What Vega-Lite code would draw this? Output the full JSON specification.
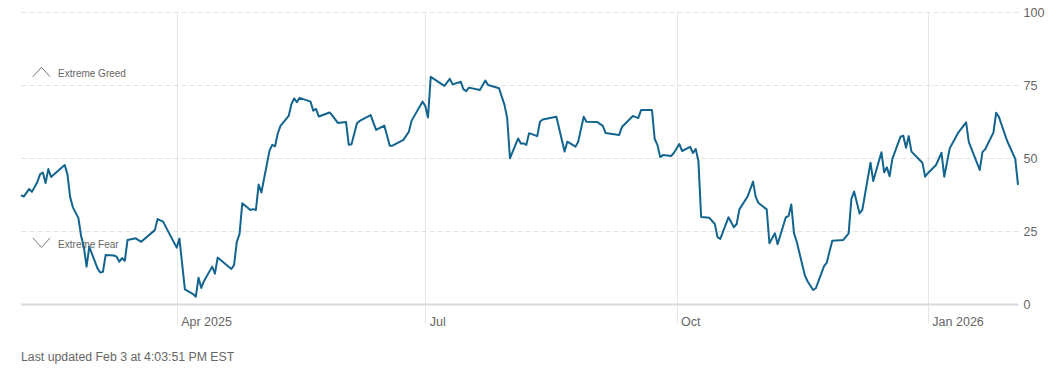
{
  "$schema": "https://vega.github.io/schema/vega-lite/v6.json",
  "width": 997,
  "height": 292,
  "autosize": {"type": "none"},
  "padding": {"left": 21, "top": 12, "right": 42, "bottom": 70},
  "background": "white",
  "config": {"view": {"stroke": null}, "font": "Liberation Sans"},
  "title": {
    "text": "Last updated Feb 3 at 4:03:51 PM EST",
    "orient": "bottom",
    "anchor": "start",
    "frame": "group",
    "fontSize": 12.3,
    "fontWeight": "normal",
    "color": "#666666",
    "font": "Liberation Sans",
    "offset": 23
  },
  "datasets": {
    "fg": [
      {"date": "2025-02-03", "value": 37.3},
      {"date": "2025-02-04", "value": 36.8},
      {"date": "2025-02-06", "value": 39.4},
      {"date": "2025-02-07", "value": 38.4},
      {"date": "2025-02-09", "value": 41.8},
      {"date": "2025-02-10", "value": 44.5},
      {"date": "2025-02-11", "value": 45.0},
      {"date": "2025-02-12", "value": 41.4},
      {"date": "2025-02-13", "value": 46.2},
      {"date": "2025-02-14", "value": 43.5},
      {"date": "2025-02-19", "value": 47.6},
      {"date": "2025-02-20", "value": 44.4},
      {"date": "2025-02-21", "value": 36.6},
      {"date": "2025-02-22", "value": 33.1},
      {"date": "2025-02-24", "value": 29.5},
      {"date": "2025-02-25", "value": 23.3},
      {"date": "2025-02-26", "value": 19.6},
      {"date": "2025-02-27", "value": 12.8},
      {"date": "2025-02-28", "value": 19.6},
      {"date": "2025-03-03", "value": 12.2},
      {"date": "2025-03-04", "value": 10.8},
      {"date": "2025-03-05", "value": 11.0},
      {"date": "2025-03-06", "value": 16.8},
      {"date": "2025-03-09", "value": 16.6},
      {"date": "2025-03-10", "value": 16.2},
      {"date": "2025-03-11", "value": 14.5},
      {"date": "2025-03-12", "value": 15.7},
      {"date": "2025-03-13", "value": 14.8},
      {"date": "2025-03-14", "value": 21.9},
      {"date": "2025-03-17", "value": 22.5},
      {"date": "2025-03-19", "value": 21.3},
      {"date": "2025-03-24", "value": 25.3},
      {"date": "2025-03-25", "value": 29.1},
      {"date": "2025-03-27", "value": 28.2},
      {"date": "2025-04-01", "value": 19.3},
      {"date": "2025-04-02", "value": 22.4},
      {"date": "2025-04-04", "value": 5.0},
      {"date": "2025-04-07", "value": 3.4},
      {"date": "2025-04-08", "value": 2.5},
      {"date": "2025-04-09", "value": 9.0},
      {"date": "2025-04-10", "value": 5.5},
      {"date": "2025-04-11", "value": 7.9},
      {"date": "2025-04-14", "value": 12.8},
      {"date": "2025-04-15", "value": 10.4},
      {"date": "2025-04-16", "value": 15.9},
      {"date": "2025-04-21", "value": 12.0},
      {"date": "2025-04-22", "value": 13.3},
      {"date": "2025-04-23", "value": 21.3},
      {"date": "2025-04-24", "value": 23.9},
      {"date": "2025-04-25", "value": 34.5},
      {"date": "2025-04-28", "value": 32.2},
      {"date": "2025-04-29", "value": 32.5},
      {"date": "2025-04-30", "value": 32.2},
      {"date": "2025-05-01", "value": 40.9},
      {"date": "2025-05-02", "value": 38.2},
      {"date": "2025-05-05", "value": 52.6},
      {"date": "2025-05-06", "value": 54.5},
      {"date": "2025-05-07", "value": 54.0},
      {"date": "2025-05-08", "value": 58.4},
      {"date": "2025-05-09", "value": 61.0},
      {"date": "2025-05-12", "value": 64.4},
      {"date": "2025-05-13", "value": 68.4},
      {"date": "2025-05-14", "value": 70.4},
      {"date": "2025-05-15", "value": 69.1},
      {"date": "2025-05-16", "value": 70.6},
      {"date": "2025-05-20", "value": 69.3},
      {"date": "2025-05-21", "value": 66.2},
      {"date": "2025-05-22", "value": 66.8},
      {"date": "2025-05-23", "value": 64.2},
      {"date": "2025-05-27", "value": 65.6},
      {"date": "2025-05-28", "value": 64.5},
      {"date": "2025-05-30", "value": 62.0},
      {"date": "2025-06-02", "value": 62.3},
      {"date": "2025-06-03", "value": 54.5},
      {"date": "2025-06-04", "value": 54.7},
      {"date": "2025-06-06", "value": 61.9},
      {"date": "2025-06-07", "value": 62.7},
      {"date": "2025-06-11", "value": 64.7},
      {"date": "2025-06-13", "value": 59.6},
      {"date": "2025-06-16", "value": 61.1},
      {"date": "2025-06-18", "value": 54.2},
      {"date": "2025-06-19", "value": 54.2},
      {"date": "2025-06-23", "value": 56.2},
      {"date": "2025-06-25", "value": 59.0},
      {"date": "2025-06-26", "value": 62.8},
      {"date": "2025-06-30", "value": 69.3},
      {"date": "2025-07-01", "value": 67.8},
      {"date": "2025-07-02", "value": 63.9},
      {"date": "2025-07-03", "value": 77.8},
      {"date": "2025-07-08", "value": 74.7},
      {"date": "2025-07-10", "value": 77.1},
      {"date": "2025-07-11", "value": 75.2},
      {"date": "2025-07-14", "value": 76.1},
      {"date": "2025-07-15", "value": 73.5},
      {"date": "2025-07-16", "value": 72.9},
      {"date": "2025-07-17", "value": 74.1},
      {"date": "2025-07-21", "value": 73.3},
      {"date": "2025-07-23", "value": 76.5},
      {"date": "2025-07-24", "value": 75.0},
      {"date": "2025-07-28", "value": 73.9},
      {"date": "2025-07-30", "value": 68.2},
      {"date": "2025-07-31", "value": 63.6},
      {"date": "2025-08-01", "value": 49.9},
      {"date": "2025-08-04", "value": 56.7},
      {"date": "2025-08-05", "value": 55.0},
      {"date": "2025-08-06", "value": 55.0},
      {"date": "2025-08-07", "value": 54.5},
      {"date": "2025-08-08", "value": 58.5},
      {"date": "2025-08-11", "value": 57.5},
      {"date": "2025-08-12", "value": 62.4},
      {"date": "2025-08-13", "value": 63.2},
      {"date": "2025-08-18", "value": 64.1},
      {"date": "2025-08-21", "value": 52.2},
      {"date": "2025-08-22", "value": 55.6},
      {"date": "2025-08-25", "value": 53.9},
      {"date": "2025-08-26", "value": 55.6},
      {"date": "2025-08-28", "value": 64.1},
      {"date": "2025-08-29", "value": 62.4},
      {"date": "2025-09-02", "value": 62.3},
      {"date": "2025-09-04", "value": 61.0},
      {"date": "2025-09-05", "value": 58.6},
      {"date": "2025-09-10", "value": 57.9},
      {"date": "2025-09-11", "value": 60.6},
      {"date": "2025-09-15", "value": 64.4},
      {"date": "2025-09-16", "value": 64.0},
      {"date": "2025-09-17", "value": 63.7},
      {"date": "2025-09-18", "value": 66.4},
      {"date": "2025-09-22", "value": 66.4},
      {"date": "2025-09-23", "value": 56.5},
      {"date": "2025-09-24", "value": 54.5},
      {"date": "2025-09-25", "value": 50.3},
      {"date": "2025-09-26", "value": 51.0},
      {"date": "2025-09-29", "value": 50.7},
      {"date": "2025-09-30", "value": 51.7},
      {"date": "2025-10-02", "value": 54.8},
      {"date": "2025-10-03", "value": 52.4},
      {"date": "2025-10-06", "value": 53.8},
      {"date": "2025-10-07", "value": 51.7},
      {"date": "2025-10-08", "value": 53.1},
      {"date": "2025-10-09", "value": 49.0},
      {"date": "2025-10-10", "value": 29.8},
      {"date": "2025-10-13", "value": 29.5},
      {"date": "2025-10-15", "value": 27.4},
      {"date": "2025-10-16", "value": 22.9},
      {"date": "2025-10-17", "value": 22.3},
      {"date": "2025-10-20", "value": 29.7},
      {"date": "2025-10-22", "value": 26.3},
      {"date": "2025-10-23", "value": 27.4},
      {"date": "2025-10-24", "value": 32.4},
      {"date": "2025-10-27", "value": 36.8},
      {"date": "2025-10-29", "value": 41.9},
      {"date": "2025-10-30", "value": 36.6},
      {"date": "2025-10-31", "value": 34.6},
      {"date": "2025-11-03", "value": 32.4},
      {"date": "2025-11-04", "value": 20.8},
      {"date": "2025-11-06", "value": 24.2},
      {"date": "2025-11-07", "value": 20.5},
      {"date": "2025-11-10", "value": 29.7},
      {"date": "2025-11-11", "value": 30.1},
      {"date": "2025-11-12", "value": 34.1},
      {"date": "2025-11-13", "value": 24.2},
      {"date": "2025-11-14", "value": 21.3},
      {"date": "2025-11-17", "value": 9.7},
      {"date": "2025-11-18", "value": 7.7},
      {"date": "2025-11-20", "value": 4.8},
      {"date": "2025-11-21", "value": 5.4},
      {"date": "2025-11-23", "value": 10.5},
      {"date": "2025-11-24", "value": 13.0},
      {"date": "2025-11-25", "value": 14.2},
      {"date": "2025-11-27", "value": 21.7},
      {"date": "2025-12-01", "value": 21.9},
      {"date": "2025-12-03", "value": 24.2},
      {"date": "2025-12-04", "value": 36.0},
      {"date": "2025-12-05", "value": 38.5},
      {"date": "2025-12-07", "value": 31.0},
      {"date": "2025-12-08", "value": 32.2},
      {"date": "2025-12-11", "value": 48.4},
      {"date": "2025-12-12", "value": 42.1},
      {"date": "2025-12-15", "value": 52.0},
      {"date": "2025-12-16", "value": 45.1},
      {"date": "2025-12-17", "value": 46.8},
      {"date": "2025-12-18", "value": 43.8},
      {"date": "2025-12-19", "value": 49.7},
      {"date": "2025-12-22", "value": 57.3},
      {"date": "2025-12-23", "value": 57.6},
      {"date": "2025-12-24", "value": 53.5},
      {"date": "2025-12-25", "value": 57.5},
      {"date": "2025-12-26", "value": 52.2},
      {"date": "2025-12-29", "value": 49.3},
      {"date": "2025-12-30", "value": 48.4},
      {"date": "2025-12-31", "value": 43.6},
      {"date": "2026-01-01", "value": 44.8},
      {"date": "2026-01-04", "value": 47.6},
      {"date": "2026-01-06", "value": 51.8},
      {"date": "2026-01-07", "value": 43.6},
      {"date": "2026-01-09", "value": 53.3},
      {"date": "2026-01-12", "value": 58.5},
      {"date": "2026-01-15", "value": 62.2},
      {"date": "2026-01-16", "value": 55.4},
      {"date": "2026-01-20", "value": 45.9},
      {"date": "2026-01-21", "value": 52.1},
      {"date": "2026-01-22", "value": 53.0},
      {"date": "2026-01-25", "value": 58.7},
      {"date": "2026-01-26", "value": 65.5},
      {"date": "2026-01-27", "value": 64.1},
      {"date": "2026-01-30", "value": 55.9},
      {"date": "2026-02-02", "value": 49.7},
      {"date": "2026-02-03", "value": 40.8}
    ],
    "notes": [
      {"date": "2025-02-16T14:00:00Z", "value": 77.6, "label": "Extreme Greed"},
      {"date": "2025-02-16T14:00:00Z", "value": 19.1, "label": "Extreme Fear"}
    ],
    "chevrons": [
      {"date": "2025-02-10T12:00:00Z", "value": 79.45, "kind": "up"},
      {"date": "2025-02-10T12:00:00Z", "value": 21.0, "kind": "down"}
    ]
  },
  "layer": [
    {
      "data": {"name": "notes"},
      "mark": {"type": "text", "align": "left", "baseline": "alphabetic", "fontSize": 10, "color": "#666666", "font": "Liberation Sans"},
      "encoding": {
        "x": {"field": "date", "type": "temporal"},
        "y": {"field": "value", "type": "quantitative"},
        "text": {"field": "label"}
      }
    },
    {
      "data": {"name": "chevrons"},
      "mark": {"type": "point", "filled": false, "size": 300, "stroke": "#777777", "strokeWidth": 1, "opacity": 1},
      "encoding": {
        "x": {"field": "date", "type": "temporal"},
        "y": {"field": "value", "type": "quantitative"},
        "shape": {
          "field": "kind",
          "type": "nominal",
          "scale": {"domain": ["up", "down"], "range": ["M-1,0.55L0,-0.55L1,0.55", "M-1,-0.55L0,0.55L1,-0.55"]},
          "legend": null
        }
      }
    },
    {
      "data": {"name": "fg"},
      "mark": {"type": "line", "color": "#13648e", "strokeWidth": 2, "strokeJoin": "round"},
      "encoding": {
        "x": {
          "field": "date",
          "type": "temporal",
          "scale": {
            "type": "utc",
            "domain": [
              {"year": 2025, "month": 2, "date": 3, "utc": true},
              {"year": 2026, "month": 2, "date": 3, "utc": true}
            ]
          },
          "axis": {
            "orient": "bottom",
            "title": null,
            "values": [
              {"year": 2025, "month": 4, "date": 1, "utc": true},
              {"year": 2025, "month": 7, "date": 1, "utc": true},
              {"year": 2025, "month": 10, "date": 1, "utc": true},
              {"year": 2026, "month": 1, "date": 1, "utc": true}
            ],
            "labelExpr": "utcmonth(datum.value) == 3 ? 'Apr 2025' : utcmonth(datum.value) == 6 ? 'Jul' : utcmonth(datum.value) == 9 ? 'Oct' : 'Jan 2026'",
            "grid": true,
            "gridColor": "#e6e6e6",
            "gridWidth": 1,
            "ticks": true,
            "tickColor": "#e6e6e6",
            "tickSize": 19,
            "tickWidth": 1,
            "domain": true,
            "domainColor": "#d9d9d9",
            "domainWidth": 2,
            "labelAlign": "left",
            "labelBaseline": "top",
            "labelOffset": 4,
            "labelPadding": -8,
            "labelFontSize": 12.5,
            "labelColor": "#666666",
            "labelFont": "Liberation Sans"
          }
        },
        "y": {
          "field": "value",
          "type": "quantitative",
          "scale": {"domain": [0, 100], "nice": false, "zero": true},
          "axis": {
            "orient": "right",
            "title": null,
            "values": [0, 25, 50, 75, 100],
            "grid": true,
            "gridColor": "#e3e3e3",
            "gridDash": [5, 3],
            "gridWidth": 1,
            "domain": false,
            "ticks": false,
            "labelPadding": 5,
            "labelFontSize": 12.5,
            "labelColor": "#666666",
            "labelFont": "Liberation Sans"
          }
        }
      }
    }
  ]
}
